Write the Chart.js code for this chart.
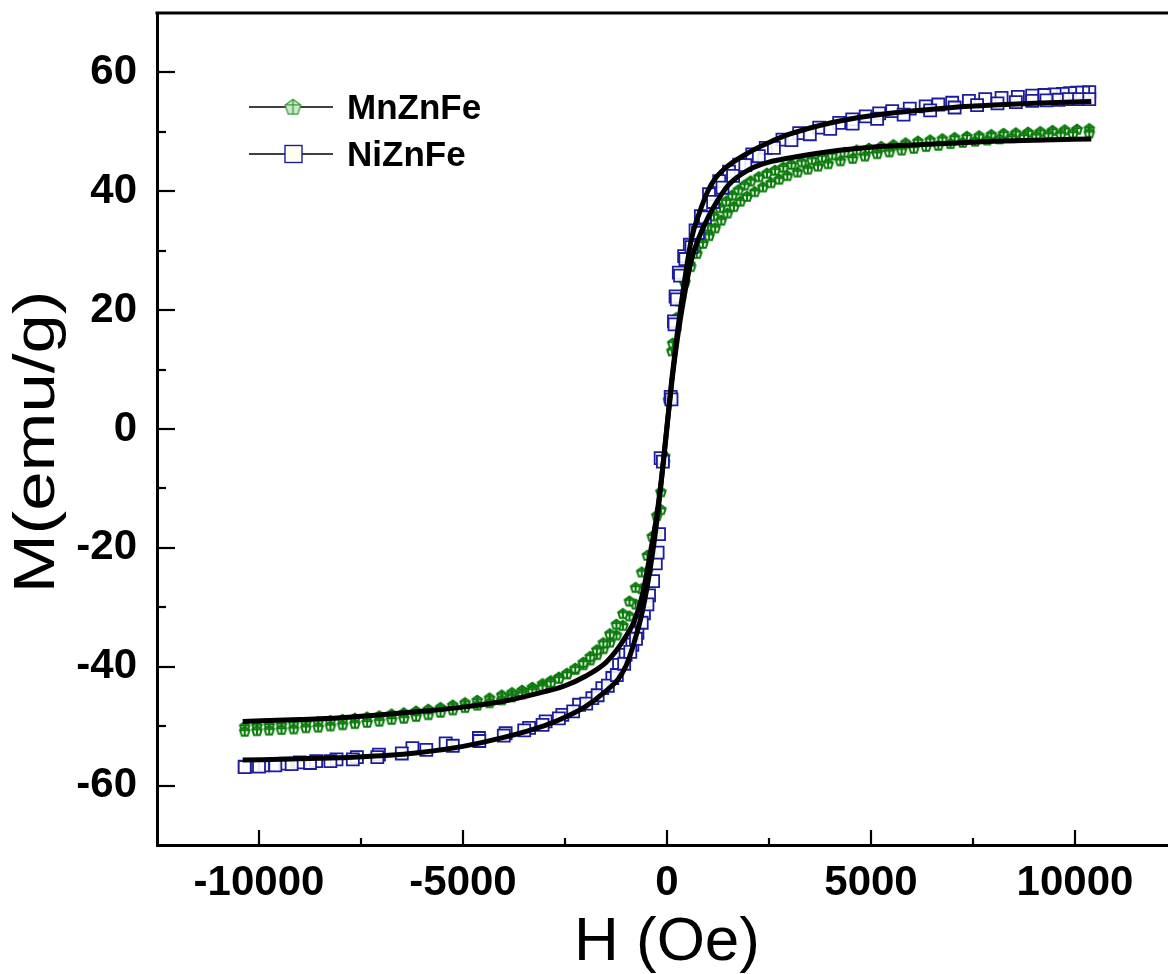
<!DOCTYPE html>
<html>
<head>
<meta charset="utf-8">
<script src="https://cdn.jsdelivr.net/npm/chart.js@4/dist/chart.umd.min.js"></script>
<style>
  html, body { margin: 0; padding: 0; background: #fff; overflow: hidden; }
  #wrap { width: 1190px; height: 974px; }
</style>
</head>
<body>
<div id="wrap"><canvas id="loopChart"></canvas></div>
<script>
// Field (Oe) and magnetisation (emu/g)
const mnFieldDown = [10350,10050,9750,9450,9150,8850,8550,8250,7950,7650,7350,7050,6750,6450,6150,5850,5550,5250,4950,4650,
  4350,4050,3800,3550,3300,3050,2850,2650,2450,2250,2050,1900,1750,1600,1450,1300,1150,1000,880,720,560,420,300,200,120,40,
  -60,-150,-250,-360,-480,-620,-770,-920,-1080,-1240,-1400,-1560,-1720,-1880,-2050,-2250,-2450,-2650,-2850,-3050,
  -3300,-3550,-3800,-4050,-4350,-4650,-4950,-5250,-5550,-5850,-6150,-6450,-6750,-7050,-7350,-7650,-7950,-8250,-8550,-8850,
  -9150,-9450,-9750,-10050,-10350];
const mnMomentDown = [50.6,50.5,50.4,50.3,50.1,50.0,49.9,49.8,49.6,49.4,49.3,49.1,48.9,48.7,48.5,48.2,47.9,47.6,47.3,47.0,
  46.6,46.2,45.8,45.4,45.0,44.6,44.1,43.6,43.1,42.5,41.8,41.1,40.3,39.4,38.4,37.3,35.9,34.2,32.7,30.4,27.8,25.0,21.6,17.5,13.2,5.0,
  -5.5,-13.5,-17.5,-21.0,-24.0,-26.8,-29.4,-31.4,-33.0,-34.6,-35.8,-36.9,-37.9,-38.8,-39.6,-40.4,-41.1,-41.7,-42.3,-42.8,
  -43.4,-43.9,-44.3,-44.7,-45.2,-45.6,-46.0,-46.4,-46.8,-47.1,-47.4,-47.7,-47.9,-48.2,-48.4,-48.6,-48.8,-49.0,-49.2,-49.4,
  -49.5,-49.7,-49.8,-49.9,-50.0];
const mnFieldUp = [-10350,-10050,-9750,-9450,-9150,-8850,-8550,-8250,-7950,-7650,-7350,-7050,-6750,-6450,-6150,-5850,-5550,-5250,-4950,-4650,
  -4350,-4050,-3800,-3550,-3300,-3050,-2850,-2650,-2450,-2250,-2050,-1880,-1720,-1560,-1400,-1240,-1080,-920,-770,-620,
  -480,-360,-250,-150,-60,
  50,140,230,330,440,580,730,880,1030,1180,1330,1480,1640,1800,1960,2150,2350,2550,2750,2950,
  3200,3450,3700,3950,4250,4550,4850,5150,5450,5750,6050,6350,6650,6950,7250,7550,7850,8150,8450,8750,
  9050,9350,9650,9950,10350];
const mnMomentUp = [-50.8,-50.7,-50.6,-50.5,-50.4,-50.2,-50.1,-49.9,-49.7,-49.5,-49.3,-49.1,-48.8,-48.6,-48.3,-48.0,-47.6,-47.2,-46.8,-46.4,
  -46.0,-45.5,-45.0,-44.5,-43.9,-43.3,-42.6,-41.9,-41.1,-40.2,-39.2,-38.2,-37.1,-35.9,-34.4,-32.8,-31.0,-28.9,-26.6,-24.0,
  -21.2,-18.0,-14.5,-10.5,-4.5,
  4.8,14.5,18.8,22.0,24.8,27.4,29.6,31.3,32.6,33.9,35.2,36.4,37.5,38.4,39.2,40.0,40.8,41.5,42.1,42.7,
  43.3,43.8,44.3,44.7,45.2,45.6,46.0,46.4,46.7,47.0,47.3,47.6,47.8,48.1,48.3,48.5,48.7,48.9,49.1,49.3,
  49.4,49.6,49.7,49.8,49.9];

const niFieldDown = [10350,10200,10050,9880,9700,9500,9250,8950,8600,8200,7800,7400,6990,6650,6340,5950,5520,5200,4870,4540,
  4220,3730,3240,2830,2420,2090,1770,1520,1280,1030,830,700,560,420,290,210,170,90,-155,-195,
  -275,-440,-565,-725,-850,-1015,-1175,-1340,-1585,-1830,-2155,-2565,-2975,-3380,-3955,-4610,-5425,-6240,-7060,-7600,
  -8100,-8600,-9000,-9350,-9650,-9900,-10150,-10350];
const niMomentDown = [56.7,56.6,56.6,56.5,56.4,56.3,56.2,56.1,55.9,55.7,55.5,55.2,54.9,54.6,54.3,53.9,53.5,53.1,52.6,52.1,
  51.5,50.7,49.8,48.7,47.3,46.2,44.5,43.3,41.7,39.5,35.8,33.4,31.0,29.1,26.3,22.3,18.1,5.4,-4.9,-17.7,
  -22.6,-28.0,-31.0,-34.3,-36.3,-38.0,-39.7,-41.9,-43.6,-45.3,-46.4,-48.1,-49.2,-50.3,-51.2,-52.0,-52.9,-53.7,-54.8,-55.2,
  -55.6,-55.9,-56.1,-56.3,-56.5,-56.6,-56.7,-56.8];
const niFieldUp = [-10350,-10000,-9600,-9200,-8750,-8250,-7700,-7100,-6500,-5900,-5250,-4600,-4000,-3500,-3050,-2650,-2300,-1980,-1700,-1450,
  -1230,-1050,-900,-760,-620,-480,-340,-230,-100,110,185,240,320,450,600,760,930,1130,1360,1620,
  1920,2250,2620,3050,3500,4000,4550,5150,5800,6450,7050,7600,8100,8550,8950,9300,9600,9850,10100,10350];
const niMomentUp = [-56.9,-56.8,-56.6,-56.4,-56.2,-55.9,-55.6,-55.2,-54.6,-54.0,-53.3,-52.5,-51.6,-50.7,-49.8,-48.7,-47.5,-46.2,-44.8,-43.2,
  -41.4,-39.5,-37.5,-35.3,-32.6,-29.5,-25.6,-20.8,-5.5,5.0,17.6,21.8,25.8,28.6,30.6,33.0,35.6,38.2,40.6,42.6,
  44.4,45.9,47.3,48.6,49.6,50.5,51.4,52.2,52.9,53.6,54.1,54.5,54.8,55.0,55.2,55.3,55.4,55.5,55.5,55.5];

// black fitted curves
const fitField = [-10400,-9000,-8000,-7000,-6000,-5000,-4000,-3000,-2500,-2000,-1500,-1200,-1000,-800,-600,-400,-250,-120,0,
  120,250,400,600,800,1000,1200,1500,2000,2500,3000,4000,5000,6000,7000,8000,9000,10400];
const mnFitMoment = [-49.2,-48.9,-48.6,-48.1,-47.5,-46.8,-45.8,-44.2,-43.2,-41.6,-39.3,-36.9,-34.8,-32.3,-27.8,-20.5,-14.5,-7.5,0.3,
  8.0,15.0,21.5,28.5,32.5,35.5,38.0,41.0,43.6,44.9,45.6,46.7,47.4,47.8,48.1,48.4,48.6,48.8];
const niFitMoment = [-55.7,-55.5,-55.3,-55.0,-54.4,-53.4,-51.9,-49.9,-48.5,-46.7,-44.1,-42.1,-39.8,-35.8,-30.6,-23.0,-15.5,-7.5,0.5,
  8.5,16.0,23.5,32.0,36.5,40.0,42.3,44.3,46.5,48.2,49.6,51.5,52.7,53.5,54.1,54.5,54.8,55.1];

const seriesNames = ['MnZnFe', 'NiZnFe'];
const xTitle = 'H (Oe)';
const yTitle = 'M(emu/g)';
const xTickStep = 2500;
const yTickStep = 10;

const GREEN = '#0b7a0b';
const BLUE = '#1c1c9c';
const FONT = '"Liberation Sans", Arial, sans-serif';

function toPoints(xs, ys) {
  return xs.map((x, i) => ({ x: x, y: ys[i] }));
}

// pentagon marker with a cross inside
function makePentagon(size, stroke, fill, lw) {
  const c = document.createElement('canvas');
  c.width = size; c.height = size;
  const g = c.getContext('2d');
  const cx = size / 2, cy = size / 2 + size * 0.05, r = size / 2 - lw;
  const pts = [];
  for (let k = 0; k < 5; k++) {
    const a = -Math.PI / 2 + k * 2 * Math.PI / 5;
    pts.push([cx + r * Math.cos(a), cy + r * Math.sin(a)]);
  }
  g.beginPath();
  pts.forEach((p, i) => i ? g.lineTo(p[0], p[1]) : g.moveTo(p[0], p[1]));
  g.closePath();
  g.fillStyle = fill; g.fill();
  g.lineWidth = lw; g.strokeStyle = stroke; g.stroke();
  g.beginPath();
  g.moveTo(cx, pts[0][1]); g.lineTo(cx, pts[2][1]);
  g.moveTo(pts[4][0], pts[1][1]); g.lineTo(pts[1][0], pts[1][1]);
  g.stroke();
  return c;
}

const dataPentagon = makePentagon(14, GREEN, '#f4fbf4', 2);
const legendPentagon = makePentagon(19, '#3d9a3d', '#c8ecc8', 1.3);

// frame, inward ticks, y title and legend
const framePlugin = {
  id: 'frame',
  afterDraw(chart) {
    const { ctx, chartArea: a, scales: { x, y } } = chart;
    ctx.save();
    ctx.strokeStyle = '#000';
    ctx.lineWidth = 3;
    ctx.beginPath();
    ctx.moveTo(a.left - 1.5, a.top);
    ctx.lineTo(a.right, a.top);
    ctx.stroke();

    ctx.lineWidth = 2.2;
    x.ticks.forEach(t => {
      if (t.value <= x.min || t.value >= x.max) return;
      const px = Math.round(x.getPixelForValue(t.value));
      const len = t.value % 5000 === 0 ? 15 : 7;
      ctx.beginPath();
      ctx.moveTo(px, a.bottom);
      ctx.lineTo(px, a.bottom - len);
      ctx.stroke();
    });
    y.ticks.forEach(t => {
      if (t.value <= y.min || t.value >= y.max) return;
      const py = Math.round(y.getPixelForValue(t.value));
      const len = t.value % 20 === 0 ? 18 : 9;
      ctx.beginPath();
      ctx.moveTo(a.left, py);
      ctx.lineTo(a.left + len, py);
      ctx.stroke();
    });

    // y title, stretched along its length like the source figure
    ctx.save();
    ctx.translate(38, 442);
    ctx.rotate(-Math.PI / 2);
    ctx.scale(1.22, 1);
    ctx.font = '58px ' + FONT;
    ctx.textAlign = 'center';
    ctx.textBaseline = 'middle';
    ctx.fillStyle = '#000';
    ctx.fillText(yTitle, 0, 0);
    ctx.restore();

    // legend
    const rows = [107, 154];
    ctx.lineWidth = 1.4;
    ctx.font = 'bold 35px ' + FONT;
    ctx.textBaseline = 'middle';
    ctx.fillStyle = '#000';
    rows.forEach((ry, i) => {
      ctx.strokeStyle = '#000';
      ctx.beginPath();
      ctx.moveTo(249, ry);
      ctx.lineTo(333, ry);
      ctx.stroke();
      if (i === 0) {
        ctx.drawImage(legendPentagon, 293 - 9.5, ry - 10);
      } else {
        ctx.fillStyle = '#fffff0';
        ctx.fillRect(285, ry - 8.5, 17, 17);
        ctx.strokeStyle = BLUE;
        ctx.strokeRect(285, ry - 8.5, 17, 17);
        ctx.fillStyle = '#000';
      }
      ctx.fillText(seriesNames[i], 347, ry + 2);
    });
    ctx.restore();
  }
};

const ctx = document.getElementById('loopChart').getContext('2d');
const loopChart = new Chart(ctx, {
  type: 'scatter',
  data: {
    datasets: [
      {
        label: 'MnZnFe fit',
        data: toPoints(fitField, mnFitMoment),
        showLine: true,
        borderColor: '#000',
        borderWidth: 5,
        pointRadius: 0,
        cubicInterpolationMode: 'monotone',
        order: 0
      },
      {
        label: 'NiZnFe fit',
        data: toPoints(fitField, niFitMoment),
        showLine: true,
        borderColor: '#000',
        borderWidth: 5,
        pointRadius: 0,
        cubicInterpolationMode: 'monotone',
        order: 0
      },
      {
        label: seriesNames[1],
        data: toPoints(niFieldDown.concat(niFieldUp), niMomentDown.concat(niMomentUp)),
        pointStyle: 'rect',
        pointRadius: 8.5,
        borderColor: BLUE,
        backgroundColor: 'rgba(255,255,255,0.9)',
        pointBorderWidth: 1.8,
        order: 1
      },
      {
        label: seriesNames[0],
        data: toPoints(mnFieldDown.concat(mnFieldUp), mnMomentDown.concat(mnMomentUp)),
        pointStyle: dataPentagon,
        pointRadius: 7,
        order: 2
      }
    ]
  },
  options: {
    responsive: true,
    maintainAspectRatio: false,
    animation: false,
    layout: { padding: { left: 0, top: 13, right: 13, bottom: 0 } },
    plugins: { legend: { display: false }, tooltip: { enabled: false } },
    scales: {
      x: {
        type: 'linear',
        min: -12500,
        max: 12500,
        afterFit: s => { s.height = 129; s.paddingLeft = 0; s.paddingRight = 0; },
        grid: { display: true, drawOnChartArea: false, drawTicks: false },
        border: { display: true, color: '#000', width: 3 },
        ticks: {
          stepSize: xTickStep,
          autoSkip: false,
          maxRotation: 0,
          padding: 13,
          color: '#000',
          font: { family: FONT, size: 42, weight: 'bold' },
          callback: v => (v % 5000 === 0 ? String(v) : '')
        },
        title: {
          display: true,
          text: xTitle,
          color: '#000',
          font: { family: FONT, size: 62, lineHeight: 1 },
          padding: { top: 0, bottom: 0 }
        }
      },
      y: {
        type: 'linear',
        min: -70,
        max: 70,
        afterFit: s => { s.width = 157; s.paddingTop = 0; s.paddingBottom = 0; },
        grid: { display: true, drawOnChartArea: false, drawTicks: false },
        border: { display: true, color: '#000', width: 3 },
        ticks: {
          stepSize: yTickStep,
          autoSkip: false,
          padding: 20,
          color: '#000',
          font: { family: FONT, size: 42, weight: 'bold' },
          callback: v => (v % 20 === 0 && Math.abs(v) < 70 ? String(v) : '')
        },
        title: { display: false }
      }
    }
  },
  plugins: [framePlugin]
});
</script>
</body>
</html>
